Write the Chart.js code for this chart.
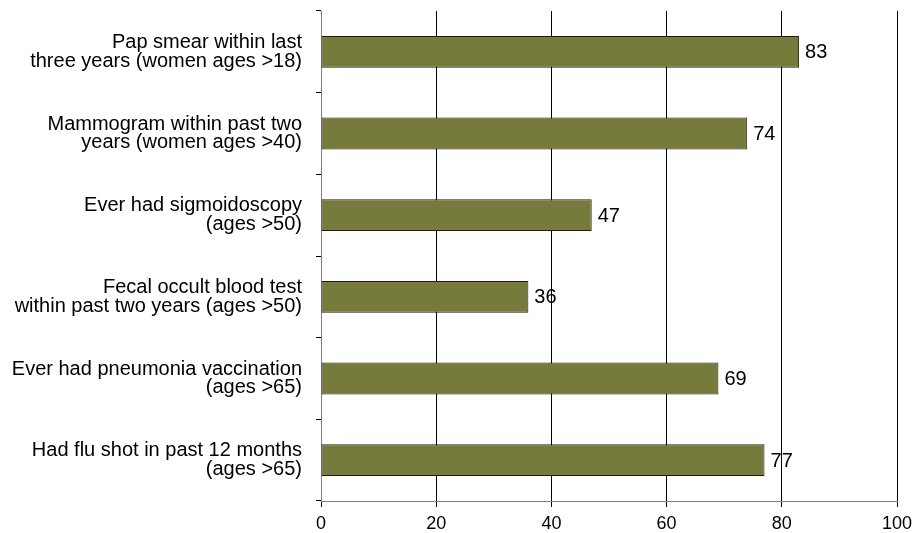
<!DOCTYPE html>
<html>
<head>
<meta charset="utf-8">
<script src="https://cdn.jsdelivr.net/npm/chart.js@4/dist/chart.umd.min.js"></script>
<style>
  html, body { margin: 0; padding: 0; background: #fff; }
  #wrap { width: 919px; height: 533px; }
</style>
</head>
<body>
<div id="wrap"><canvas id="chart" width="919" height="533"></canvas></div>
<script>
const categories = [
    ["Pap smear within last", "three years (women ages >18)"],
    ["Mammogram within past two", "years (women ages >40)"],
    ["Ever had sigmoidoscopy", "(ages >50)"],
    ["Fecal occult blood test", "within past two years (ages >50)"],
    ["Ever had pneumonia vaccination", "(ages >65)"],
    ["Had flu shot in past 12 months", "(ages >65)"]
];
const percentValues = [83, 74, 47, 36, 69, 77];
const xTicks = [0, 20, 40, 60, 80, 100];

const barColor = "#767a3a";
const fontFamily = "'Liberation Sans', Arial, sans-serif";

// write the value just to the right of each bar
const valueLabels = {
    id: "valueLabels",
    afterDatasetsDraw(chart) {
        const ctx = chart.ctx;
        const meta = chart.getDatasetMeta(0);
        ctx.save();
        ctx.font = "20px " + fontFamily;
        ctx.fillStyle = "#000";
        ctx.textAlign = "left";
        ctx.textBaseline = "middle";
        meta.data.forEach((bar, i) => {
            ctx.fillText(String(percentValues[i]), bar.x + 6, bar.y + 1);
        });
        ctx.restore();
    }
};

const ctx = document.querySelector("#chart").getContext("2d");
const myChart = new Chart(ctx, {
    type: "bar",
    data: {
        labels: categories,
        datasets: [{
            data: percentValues,
            backgroundColor: barColor,
            borderColor: "#1e1e10",
            borderWidth: 1,
            borderSkipped: false,
            categoryPercentage: 0.39,
            barPercentage: 1.0
        }]
    },
    options: {
        indexAxis: "y",
        responsive: false,
        animation: false,
        layout: { padding: { top: 11, right: 22, bottom: 0, left: 0 } },
        plugins: {
            legend: { display: false },
            tooltip: { enabled: false }
        },
        scales: {
            x: {
                min: 0,
                max: 100,
                afterBuildTicks: (axis) => { axis.ticks = xTicks.map(v => ({ value: v })); },
                border: { display: true, color: "#808080", width: 1 },
                grid: {
                    color: (c) => c.tick && c.tick.value === 0 ? "#808080" : "#000",
                    lineWidth: 1,
                    drawTicks: true,
                    tickLength: 6,
                    tickColor: "#000"
                },
                ticks: {
                    color: "#000",
                    font: { family: fontFamily, size: 18 },
                    padding: 6,
                    maxRotation: 0
                },
                afterFit: (axis) => { axis.height = 32; }
            },
            y: {
                border: { display: true, color: "#808080", width: 1 },
                grid: {
                    offset: true,
                    drawOnChartArea: false,
                    drawTicks: true,
                    tickLength: 5,
                    tickColor: "#000"
                },
                ticks: {
                    color: "#000",
                    font: { family: fontFamily, size: 20, lineHeight: 0.93 },
                    padding: 14
                },
                afterFit: (axis) => {
                    axis.width = 321;
                    axis.paddingTop = 0;
                    axis.paddingBottom = 0;
                }
            }
        }
    },
    plugins: [valueLabels]
});
</script>
</body>
</html>
